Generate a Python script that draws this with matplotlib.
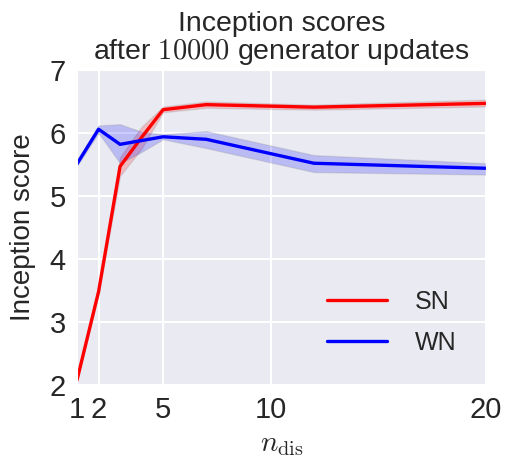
import matplotlib
matplotlib.use("Agg")
import matplotlib.pyplot as plt
import seaborn as sns

sns.set_style("darkgrid")
plt.rcParams['font.family'] = ['Liberation Sans', 'DejaVu Sans']
plt.rcParams['mathtext.fontset'] = 'cm'

n_dis = [1, 2, 3, 4, 5, 7, 12, 20]
sn_mean = [2.08, 3.48, 5.47, 5.93, 6.37, 6.45, 6.41, 6.47]
sn_low = [2.05, 3.44, 5.32, 5.75, 6.33, 6.40, 6.37, 6.42]
sn_high = [2.11, 3.52, 5.62, 6.10, 6.42, 6.50, 6.45, 6.53]
wn_mean = [5.51, 6.06, 5.82, 5.88, 5.94, 5.90, 5.52, 5.44]
wn_low = [5.48, 6.00, 5.52, 5.70, 5.90, 5.76, 5.38, 5.34]
wn_high = [5.55, 6.12, 6.14, 6.02, 5.98, 6.03, 5.65, 5.52]
xticks = [1, 2, 5, 10, 20]
yticks = [2, 3, 4, 5, 6, 7]

fig = plt.figure(figsize=(5.05, 4.66), dpi=100)
ax = fig.add_axes([0.1525, 0.1738, 0.81, 0.676])
ax.grid(True, color='white', linewidth=1.5)

ax.fill_between(n_dis, sn_low, sn_high, color='red', alpha=0.2, edgecolor='gray', linewidth=1)
ax.fill_between(n_dis, wn_low, wn_high, color='blue', alpha=0.2, edgecolor='gray', linewidth=1)
ax.plot(n_dis, sn_mean, color='red', lw=2.4, label='SN')
ax.plot(n_dis, wn_mean, color='blue', lw=2.4, label='WN')

ax.set_xlim(1, 20)
ax.set_ylim(2, 7)
ax.set_xticks(xticks)
ax.set_yticks(yticks)
ax.tick_params(axis='both', labelsize=21, length=2, width=1, color='#333333', pad=6)
for lbl in ax.get_xticklabels() + ax.get_yticklabels():
    lbl.set_color('#262626')

ax.set_xlabel(r'$n_{\rm dis}$', fontsize=21, color='#262626', labelpad=4)
ax.set_ylabel('Inception score', fontsize=20, color='#262626', labelpad=10)
ax.set_title('Inception scores\nafter $10000$ generator updates', fontsize=20.5, color='#262626', linespacing=1.0, pad=8)

ax.legend(loc='lower right', fontsize=18, frameon=False, handlelength=2.4,
          borderaxespad=0.8, labelspacing=0.7, handletextpad=1.1)

fig.savefig('out.png', dpi=100)
